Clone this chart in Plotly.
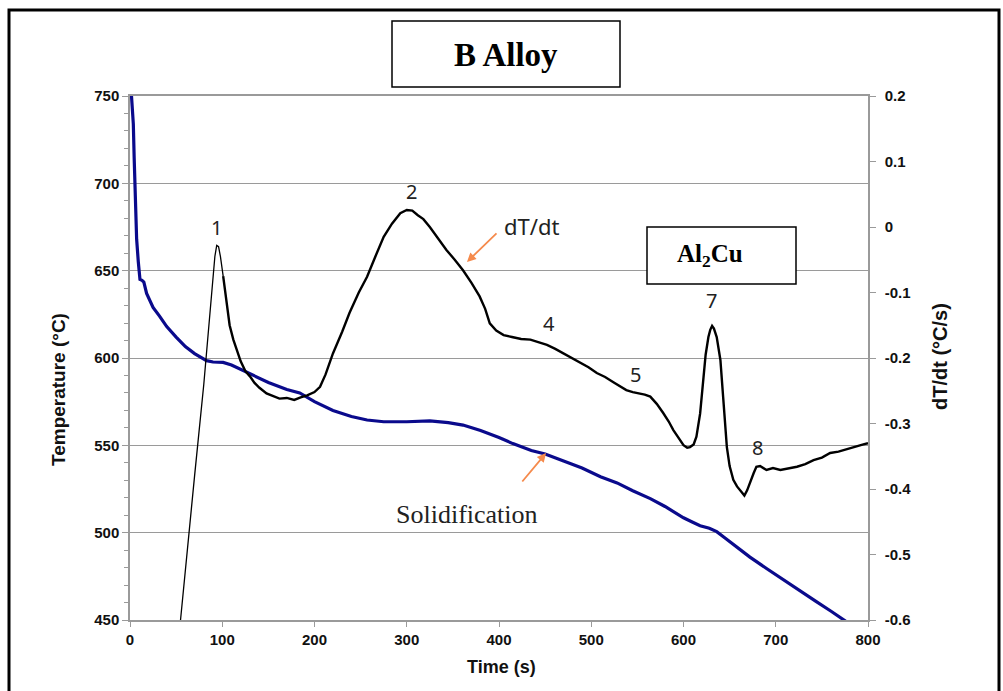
import plotly.graph_objects as go

# ---------------- data ----------------
time_T = [1.5, 2.5, 3.6, 4.5, 5.4, 6.3, 7.2, 9, 10.8, 13, 15, 18, 21.7, 25, 32, 39.8, 50, 60, 70,
          76, 83, 90, 101, 110, 120, 130, 150, 170, 184, 200, 220, 240, 257, 275, 300, 325, 345,
          361, 380, 400, 415, 435, 450, 470, 490, 510, 528, 545, 564, 580, 600, 610, 618, 628,
          636, 645, 660, 672, 690, 708, 726, 744, 760, 777, 785]
temp_C = [751, 745, 734, 715, 696, 680, 668, 655, 645, 644.5, 643.5, 637, 633, 629, 624, 618, 612,
          606.5, 602.5, 600.8, 598.5, 597.7, 597.5, 596, 593.5, 591, 586, 582, 580, 575, 570, 566.5,
          564.5, 563.5, 563.5, 564, 563, 561.6, 558.5, 554.5, 551, 547, 545, 541, 537, 532, 528.5,
          524, 519.5, 515, 508.5, 506, 504, 502.5, 500.6, 497, 491, 486, 479.5, 473, 466.5, 460.5,
          455, 449, 446]

time_d = [52, 60, 70, 80, 88, 92, 94, 96, 98, 101, 104, 108, 112, 116, 120, 125, 130, 135, 140,
          148, 155, 162, 170, 178, 185, 192, 200, 206, 212, 220, 230, 238, 248, 257, 266, 275, 284,
          293, 300, 306, 312, 318, 325, 334, 343, 352, 361, 370, 379, 385, 390, 397, 405, 414, 424,
          434, 443, 452, 461, 470, 479, 488, 497, 506, 515, 524, 531, 538, 545, 552, 558, 564, 571,
          578, 584, 589, 595, 600, 604, 607, 611, 614, 618, 621, 624, 627, 629, 631, 633, 636, 638,
          640, 643, 647, 650, 654, 658, 661, 664, 666, 669, 672, 676, 679, 683, 690, 697, 705, 714,
          723, 732, 741, 750, 759, 768, 777, 786, 795, 800]
dTdt = [-0.64, -0.52, -0.38, -0.24, -0.11, -0.045, -0.028, -0.03, -0.045, -0.075, -0.11, -0.15,
        -0.172, -0.19, -0.205, -0.22, -0.228, -0.238, -0.245, -0.254, -0.258, -0.262, -0.261,
        -0.264, -0.26, -0.257, -0.252, -0.244, -0.225, -0.193, -0.16, -0.131, -0.10, -0.076,
        -0.045, -0.015, 0.005, 0.021, 0.026, 0.025, 0.018, 0.012, 0.0, -0.018, -0.035, -0.05,
        -0.066, -0.085, -0.106, -0.125, -0.147, -0.158, -0.165, -0.168, -0.171, -0.172, -0.176,
        -0.18, -0.186, -0.193, -0.199, -0.206, -0.214, -0.223, -0.229, -0.237, -0.243, -0.249,
        -0.252, -0.254, -0.256, -0.259, -0.27, -0.284, -0.297, -0.31, -0.322, -0.333, -0.337,
        -0.336, -0.332, -0.32, -0.285, -0.234, -0.195, -0.168, -0.157, -0.151, -0.155, -0.168,
        -0.185, -0.203, -0.26, -0.336, -0.365, -0.386, -0.396, -0.401, -0.407, -0.41, -0.402,
        -0.39, -0.376, -0.366, -0.365, -0.371, -0.368, -0.371, -0.369, -0.366, -0.362, -0.356,
        -0.352, -0.345, -0.343, -0.339, -0.336, -0.332, -0.33]

x_ticks = [0, 100, 200, 300, 400, 500, 600, 700, 800]
y_ticks = [450, 500, 550, 600, 650, 700, 750]
y2_ticks = [0.2, 0.1, 0, -0.1, -0.2, -0.3, -0.4, -0.5, -0.6]
y2_labels = ["0.2", "0.1", "0", "-0.1", "-0.2", "-0.3", "-0.4", "-0.5", "-0.6"]

peak_labels = ["1", "2", "4", "5", "7", "8"]
peak_t = [94, 305, 454, 548, 630, 680]
peak_T = [674.5, 695.5, 620, 590.3, 633.2, 549]

# ---------------- figure ----------------
L, R, T, B = 130, 868, 96, 620
W, H = 1003, 691


def px(x):
    return (x - L) / (R - L)


def py(y):
    return (B - y) / (B - T)


GRAY = "#9a9a9a"
tickfont = dict(family="Liberation Sans, Arial", size=15, color="#111", weight="bold")

fig = go.Figure()
fig.add_trace(go.Scatter(x=time_T, y=temp_C, mode="lines",
                         line=dict(color="#0a0a8c", width=3.2), yaxis="y", showlegend=False))
split = 9
fig.add_trace(go.Scatter(x=time_d[:split + 1], y=dTdt[:split + 1], mode="lines",
                         line=dict(color="black", width=1.3), yaxis="y2", showlegend=False))
fig.add_trace(go.Scatter(x=time_d[split:], y=dTdt[split:], mode="lines",
                         line=dict(color="black", width=2.4), yaxis="y2", showlegend=False))

shapes = [
    # outer frame
    dict(type="rect", xref="paper", yref="paper", x0=px(9), x1=px(999), y0=py(720), y1=py(10),
         line=dict(color="black", width=3), layer="above"),
    # title box
    dict(type="rect", xref="paper", yref="paper", x0=px(392), x1=px(620), y0=py(87), y1=py(21),
         line=dict(color="black", width=1.5), fillcolor="white", layer="above"),
    # Al2Cu box
    dict(type="rect", xref="paper", yref="paper", x0=px(647), x1=px(796), y0=py(284), y1=py(227),
         line=dict(color="black", width=1.5), fillcolor="white", layer="above"),
    # gap in the 500 gridline behind the "Solidification" label
    dict(type="rect", xref="paper", yref="paper", x0=px(365), x1=px(595), y0=py(537), y1=py(529),
         line=dict(width=0), fillcolor="white", layer="between"),
]

ann = [
    dict(text="B Alloy", x=px(506), y=py(55), font=dict(family="Liberation Serif, Times New Roman",
         size=33, color="black", weight="bold")),
    dict(text="Al<sub>2</sub>Cu", x=px(710), y=py(256), font=dict(family="Liberation Serif, Times New Roman",
         size=25, color="black", weight="bold")),
    dict(text="Solidification", x=px(467), y=py(514), font=dict(family="Liberation Serif, Times New Roman",
         size=26, color="#222")),
    dict(text="dT/dt", x=px(531), y=py(226), font=dict(family="Noto Sans", size=22, color="#222")),
    dict(text="Time (s)", x=px(501), y=py(667), font=dict(family="Liberation Sans, Arial", size=18,
         color="#111", weight="bold")),
    dict(text="Temperature (°C)", x=px(58), y=py(390), textangle=-90,
         font=dict(family="Liberation Sans, Arial", size=19, color="#111", weight="bold")),
    dict(text="dT/dt (°C/s)", x=px(940), y=py(357), textangle=-90,
         font=dict(family="Liberation Sans, Arial", size=20, color="#111", weight="bold")),
]
for a in ann:
    a.update(xref="paper", yref="paper", showarrow=False, xanchor="center", yanchor="middle")

for lab, t, tc in zip(peak_labels, peak_t, peak_T):
    ann.append(dict(text=lab, x=t, y=tc, xref="x", yref="y", showarrow=False,
                    font=dict(family="Noto Sans", size=20, color="#222")))

# orange arrows
ann.append(dict(text="", x=365.3, y=655, xref="x", yref="y", showarrow=True, ax=31, ay=-30,
                arrowcolor="#f58a4c", arrowwidth=1.8, arrowhead=2, arrowsize=1, standoff=0))
ann.append(dict(text="", x=451, y=545.6, xref="x", yref="y", showarrow=True, ax=-25, ay=30,
                arrowcolor="#f58a4c", arrowwidth=1.8, arrowhead=2, arrowsize=1, standoff=0))

fig.update_layout(
    width=W, height=H, autosize=False,
    margin=dict(l=L, r=W - R, t=T, b=H - B, pad=0),
    paper_bgcolor="white", plot_bgcolor="white",
    shapes=shapes, annotations=ann, showlegend=False,
    xaxis=dict(range=[0, 800], tickvals=x_ticks, showgrid=False, zeroline=False,
               showline=True, linecolor=GRAY, linewidth=1.5, mirror=True,
               ticks="outside", ticklen=5, tickcolor=GRAY, tickfont=tickfont),
    yaxis=dict(range=[450, 750], tickvals=y_ticks, showgrid=True, gridcolor=GRAY, gridwidth=1,
               zeroline=False, showline=True, linecolor=GRAY, linewidth=1.5,
               ticks="outside", ticklen=6, tickcolor=GRAY, tickfont=tickfont,
               minor=dict(dtick=10, ticks="outside", ticklen=4, tickcolor=GRAY, showgrid=False)),
    yaxis2=dict(range=[-0.6, 0.2], overlaying="y", side="right", tickvals=y2_ticks,
                ticktext=y2_labels, showgrid=False, zeroline=False, showline=True,
                linecolor=GRAY, linewidth=1.5, ticks="outside", ticklen=6, tickcolor=GRAY,
                tickfont=tickfont, ticklabelstandoff=6),
)

fig.write_html("out.html")
